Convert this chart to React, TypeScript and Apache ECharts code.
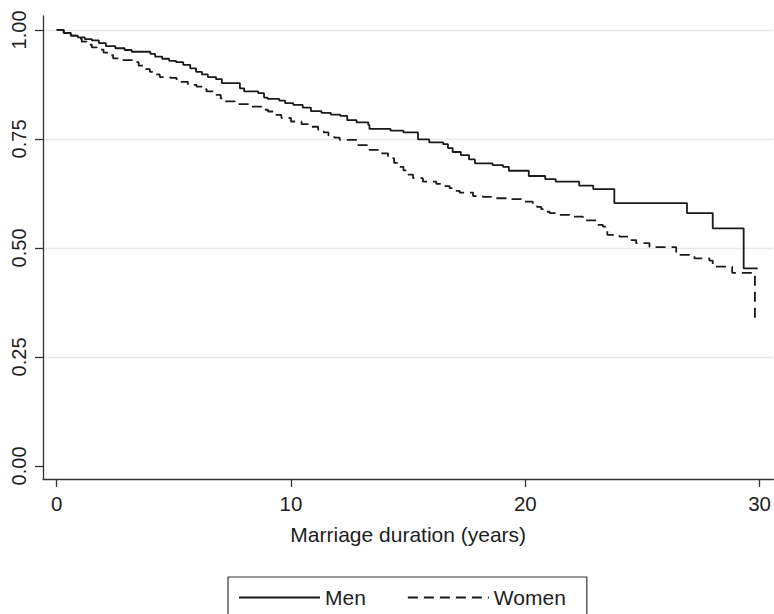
import React, { useEffect, useRef } from "react";
import * as echarts from "echarts";

// Kaplan-Meier estimates: time of drop (years) and survival after the drop
const menTimes = [
  0, 0.3, 0.6, 0.9, 1.2, 1.5, 1.8, 2.1, 2.5, 2.9, 3.2, 4.0, 4.2, 4.5, 4.8, 5.1,
  5.4, 5.7, 5.95, 6.2, 6.45, 6.8, 7.05, 7.82, 8.0, 8.6, 8.85, 9.0, 9.5, 9.75,
  10.1, 10.5, 10.85, 11.3, 11.7, 12.1, 12.4, 12.8, 13.3, 13.35, 14.25, 14.8,
  15.42, 15.9, 16.5, 16.7, 16.9, 17.25, 17.6, 17.85, 18.6, 19.05, 19.3, 20.15,
  20.85, 21.3, 22.3, 22.9, 23.8, 26.9, 28.0, 29.32, 29.92,
];
const menSurvival = [
  1.0, 0.993, 0.987, 0.983, 0.979, 0.976, 0.97, 0.963, 0.958, 0.954, 0.95,
  0.945, 0.939, 0.934, 0.929, 0.926, 0.92, 0.912, 0.904, 0.898, 0.892, 0.887,
  0.878, 0.866, 0.859, 0.855, 0.845, 0.842, 0.838, 0.832, 0.828, 0.822, 0.814,
  0.81, 0.806, 0.803, 0.793, 0.788, 0.782, 0.773, 0.769, 0.765, 0.749, 0.742,
  0.738, 0.729, 0.72, 0.713, 0.703, 0.694, 0.69, 0.686, 0.677, 0.665, 0.658,
  0.652, 0.643, 0.635, 0.603, 0.58, 0.545, 0.453, 0.453,
];

const womenTimes = [
  0, 0.3, 0.6, 0.85, 1.07, 1.28, 1.5, 1.71, 2.0, 2.2, 2.41, 2.84, 3.27, 3.5,
  3.75, 3.98, 4.2, 4.4, 4.85, 5.12, 5.6, 5.97, 6.2, 6.4, 6.82, 7.0, 7.11, 7.6,
  8.31, 8.74, 9.02, 9.31, 9.59, 10.0, 10.45, 10.73, 11.16, 11.4, 11.6, 11.85,
  12.08, 12.86, 13.29, 13.71, 14.14, 14.4, 14.6, 14.8, 15.0, 15.21, 15.63, 16.2,
  16.5, 16.77, 17.0, 17.2, 17.77, 18.19, 18.62, 19.2, 19.97, 20.32, 20.5, 20.68,
  20.9, 21.04, 21.46, 21.89, 22.46, 23.03, 23.31, 23.5, 24.02, 24.52, 24.73,
  25.3, 26.44, 27.22, 27.86, 28.0, 28.83, 29.8,
];
const womenSurvival = [
  1.0, 0.993, 0.987, 0.98, 0.973, 0.966, 0.96, 0.955, 0.948, 0.942, 0.935,
  0.931, 0.926, 0.918, 0.91, 0.904, 0.898, 0.892, 0.89, 0.881, 0.874, 0.87,
  0.864, 0.859, 0.851, 0.843, 0.836, 0.83, 0.824, 0.817, 0.813, 0.805, 0.798,
  0.79, 0.784, 0.778, 0.771, 0.765, 0.758, 0.753, 0.748, 0.736, 0.725, 0.717,
  0.706, 0.695, 0.686, 0.678, 0.668, 0.66, 0.652, 0.647, 0.642, 0.637, 0.631,
  0.627, 0.619, 0.617, 0.614, 0.612, 0.606, 0.599, 0.594, 0.589, 0.583, 0.58,
  0.576, 0.572, 0.563, 0.553, 0.549, 0.53, 0.526, 0.518, 0.511, 0.502, 0.484,
  0.476, 0.471, 0.457, 0.443, 0.339,
];

const xTicks = [0, 10, 20, 30];
const yTicks = [0, 0.25, 0.5, 0.75, 1.0];

const FONT = "'Liberation Sans', Arial, Helvetica, sans-serif";
const TEXT = "#1e1e1e";
const AXIS = "#333333";
const LINE = "#1a1a1a";

export default function App() {
  const ref = useRef<HTMLDivElement>(null);

  useEffect(() => {
    if (!ref.current) return;
    const chart = echarts.init(ref.current, null, { renderer: "svg" });
    const men = menTimes.map((t, i) => [t, menSurvival[i]]);
    const women = womenTimes.map((t, i) => [t, womenSurvival[i]]);

    chart.setOption({
      animation: false,
      backgroundColor: "#ffffff",
      textStyle: { fontFamily: FONT },
      grid: { left: 43, right: 0, top: 16, bottom: 135, containLabel: false },
      xAxis: {
        type: "value",
        min: -0.584,
        max: 30.59,
        name: "Marriage duration (years)",
        nameLocation: "middle",
        nameGap: 45,
        nameTextStyle: { fontSize: 21, color: TEXT, fontFamily: FONT },
        axisLine: { onZero: false, lineStyle: { color: AXIS, width: 1.3 } },
        axisTick: { customValues: xTicks, length: 8, lineStyle: { color: AXIS, width: 1.3 } },
        axisLabel: {
          customValues: xTicks,
          fontSize: 20.5,
          color: TEXT,
          fontFamily: FONT,
          margin: 14,
          formatter: (v: number) => String(Math.round(v)),
        },
        splitLine: { show: false },
      },
      yAxis: {
        type: "value",
        min: -0.03,
        max: 1.032,
        axisLine: { show: true, onZero: false, lineStyle: { color: AXIS, width: 1.3 } },
        axisTick: { show: true, customValues: yTicks, length: 8, lineStyle: { color: AXIS, width: 1.3 } },
        axisLabel: {
          customValues: yTicks,
          rotate: 90,
          fontSize: 20,
          color: TEXT,
          fontFamily: FONT,
          margin: 14,
          formatter: (v: number) => v.toFixed(2),
        },
        splitLine: {
          show: true,
          lineStyle: {
            color: ["rgba(0,0,0,0)", "#e8e8e8", "#e8e8e8", "#e8e8e8", "#e8e8e8"],
            width: 1.3,
          },
        },
      },
      legend: {
        data: ["Men", "Women"],
        left: 228,
        top: 577,
        orient: "horizontal",
        itemWidth: 81,
        itemHeight: 20,
        itemGap: 41,
        padding: [10, 21, 10, 10],
        borderColor: AXIS,
        borderWidth: 1.2,
        itemStyle: { opacity: 0 },
        textStyle: { fontSize: 21, color: TEXT, fontFamily: FONT },
      },
      series: [
        {
          name: "Men",
          type: "line",
          step: "end",
          data: men,
          showSymbol: false,
          symbol: "none",
          lineStyle: { color: LINE, width: 1.8, type: "solid" },
          itemStyle: { color: LINE },
        },
        {
          name: "Women",
          type: "line",
          step: "end",
          data: women,
          showSymbol: false,
          symbol: "none",
          lineStyle: { color: LINE, width: 1.8, type: [10, 6] },
          itemStyle: { color: LINE },
        },
      ],
    });

    return () => chart.dispose();
  }, []);

  return (
    <div
      ref={ref}
      style={{ position: "fixed", left: 0, top: 0, width: 774, height: 614, background: "#fff" }}
    />
  );
}
